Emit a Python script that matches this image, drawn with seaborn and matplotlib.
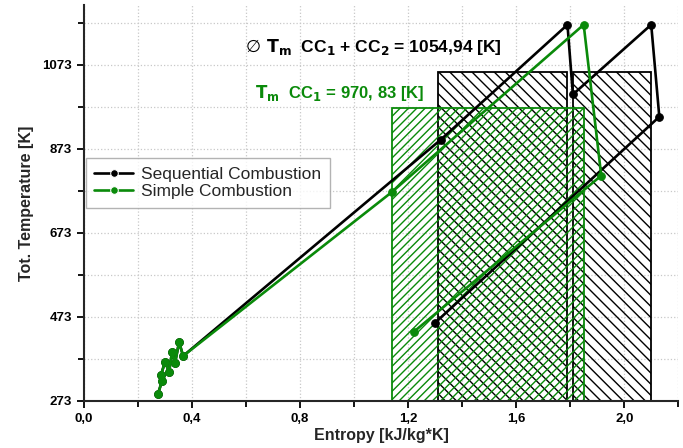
import pandas as pd
import seaborn as sns
import matplotlib.pyplot as plt
from matplotlib.ticker import MultipleLocator, FuncFormatter

# cycle points
seq_s = [0.274, 0.289, 0.285, 0.300, 0.315, 0.326, 0.337, 0.352, 0.367,
         1.32, 1.79, 1.81, 2.10, 2.13, 1.30]
seq_t = [290, 321, 335, 366, 342, 390, 363, 413, 380,
         894, 1168, 1002, 1168, 949, 459]
simple_s = [0.274, 0.289, 0.285, 0.300, 0.315, 0.326, 0.337, 0.352, 0.367,
            1.14, 1.85, 1.915, 1.22]
simple_t = [290, 321, 335, 366, 342, 390, 363, 413, 380,
            770, 1168, 809, 437]

# mean temperature rectangles
seq_left = [1.31, 1.81]
seq_right = [1.79, 2.10]
seq_tm = 1054.94
simple_left = [1.14]
simple_right = [1.85]
simple_tm = 970.83
t_base = 273

black = "#000000"
green = "#0a8a0a"


def main():
    sns.set_style("ticks")
    plt.rcParams['font.family'] = ['Liberation Sans', 'DejaVu Sans']
    plt.rcParams['mathtext.default'] = 'bf'
    plt.rcParams['hatch.linewidth'] = 1.0

    df = pd.concat([
        pd.DataFrame({'s': seq_s, 'T': seq_t, 'cycle': 'Sequential Combustion'}),
        pd.DataFrame({'s': simple_s, 'T': simple_t, 'cycle': 'Simple Combustion'}),
    ])

    fig, ax = plt.subplots(figsize=(6.83, 4.48), dpi=100)
    fig.subplots_adjust(left=0.123, right=0.993, bottom=0.105, top=0.989)

    # hatched rectangles, no fill
    plt.rcParams['hatch.color'] = black
    for l, r in zip(seq_left, seq_right):
        ax.bar(l, seq_tm - t_base, width=r - l, bottom=t_base, align='edge',
               fill=False, hatch='\\\\\\', edgecolor=black, linewidth=1.3, zorder=2)
    for l, r in zip(simple_left, simple_right):
        ax.bar(l, simple_tm - t_base, width=r - l, bottom=t_base, align='edge',
               fill=False, hatch='////', edgecolor=green, linewidth=1.3, zorder=2)

    sns.lineplot(
        data=df, x='s', y='T', hue='cycle',
        sort=False, estimator=None, palette=[black, green],
        marker='o', markersize=5.5, linewidth=1.9,
        ax=ax, zorder=3,
    )
    for line, c in zip(ax.lines, [black, green]):
        line.set_markeredgecolor(c)

    ax.set_xlim(0, 2.2)
    ax.set_ylim(273, 1215)
    ax.xaxis.set_major_locator(MultipleLocator(0.4))
    ax.xaxis.set_minor_locator(MultipleLocator(0.2))
    ax.yaxis.set_major_locator(MultipleLocator(200, offset=73))
    ax.yaxis.set_minor_locator(MultipleLocator(100, offset=73))
    ax.xaxis.set_major_formatter(FuncFormatter(lambda v, p: f"{v:.1f}".replace('.', ',')))
    ax.yaxis.set_major_formatter(FuncFormatter(lambda v, p: f"{v:.0f}"))
    ax.grid(which='both', color='#c8c8c8', linestyle=':', linewidth=0.9)
    ax.set_axisbelow(True)

    for side in ['top', 'right']:
        ax.spines[side].set_visible(False)
    for side in ['left', 'bottom']:
        ax.spines[side].set_linewidth(1.5)
    ax.tick_params(which='both', direction='out', width=1.3, colors=black)
    ax.tick_params(which='major', length=5)
    ax.tick_params(which='minor', length=4)
    for lab in ax.get_xticklabels() + ax.get_yticklabels():
        lab.set_fontweight('bold')
        lab.set_fontsize(9.5)

    ax.set_xlabel('Entropy [kJ/kg*K]', fontsize=11.5, fontweight='bold', labelpad=2)
    ax.set_ylabel('Tot. Temperature [K]', fontsize=11.5, fontweight='bold', labelpad=6)

    # diameter sign from DejaVu, rest of the label in Liberation
    ax.text(0.600, 1116, "\u2205", fontsize=12.5, color=black, va='center',
            family='DejaVu Sans')
    ax.text(0.672, 1116, "$T_m$  CC$_1$ + CC$_2$ = 1054,94 [K]",
            fontsize=12.5, fontweight='bold', color=black, va='center')
    ax.text(0.633, 1006, "$T_m$  CC$_1$ = 970, 83 [K]",
            fontsize=12, fontweight='bold', color=green, va='center')

    leg = ax.legend(loc='upper left', bbox_to_anchor=(0.003, 0.614), fontsize=12.5,
                    frameon=True, fancybox=False, edgecolor='#a0a0a0',
                    borderaxespad=0, handlelength=2.2, borderpad=0.5,
                    labelspacing=0.15, handletextpad=0.5)
    leg.get_frame().set_linewidth(1.0)

    plt.savefig('out.png', dpi=100)


main()
